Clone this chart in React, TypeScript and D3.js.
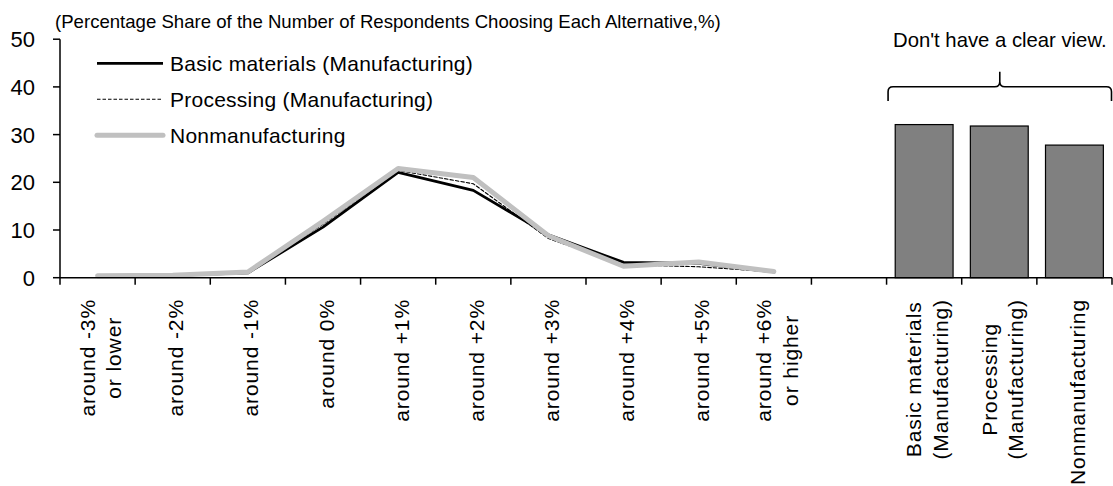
import React, { useEffect, useRef } from "react";
import * as d3 from "d3";

// Expected price-change alternatives (x-axis, line part)
const rateCategories: string[][] = [
  ["around -3%", "or lower"],
  ["around -2%"],
  ["around -1%"],
  ["around 0%"],
  ["around +1%"],
  ["around +2%"],
  ["around +3%"],
  ["around +4%"],
  ["around +5%"],
  ["around +6%", "or higher"],
];

// "Don't have a clear view." answers, one bar per industry
const viewCategories: string[][] = [
  ["Basic materials", "(Manufacturing)"],
  ["Processing", "(Manufacturing)"],
  ["Nonmanufacturing"],
];

const seriesNames = [
  "Basic materials (Manufacturing)",
  "Processing (Manufacturing)",
  "Nonmanufacturing",
];

const basicMaterials = [0.3, 0.5, 1.0, 10.6, 22.1, 18.3, 9.0, 3.2, 3.0, 1.2];
const processing = [0.3, 0.5, 1.0, 11.2, 22.5, 19.7, 8.2, 2.7, 2.3, 1.2];
const nonmanufacturing = [0.4, 0.5, 1.2, 11.8, 22.9, 21.0, 8.8, 2.4, 3.3, 1.3];
const noClearView = [32.1, 31.8, 27.8];

const yTicks = [0, 10, 20, 30, 40, 50];

const unitNote =
  "(Percentage Share of the Number of Respondents Choosing Each Alternative,%)";
const viewNote = "Don't have a clear view.";

const W = 1113;
const H = 486;
const FONT = "'Liberation Sans', Arial, sans-serif";

export default function App() {
  const ref = useRef<SVGSVGElement | null>(null);

  useEffect(() => {
    const svg = d3.select(ref.current!);
    svg.selectAll("*").remove();

    const left = 60;
    const right = 1112;
    const top = 39.2;
    const bottom = 277.7;

    const rateKeys = rateCategories.map((_, i) => `r${i}`);
    const viewKeys = viewCategories.map((_, i) => `v${i}`);
    const keys = [...rateKeys, "gap", ...viewKeys];

    const x = d3.scaleBand<string>().domain(keys).range([left, right]).padding(0);
    const bw = x.bandwidth();
    const cx = (k: string) => (x(k) as number) + bw / 2;
    const y = d3.scaleLinear().domain([0, 50]).range([bottom, top]);

    const g = svg.append("g").attr("font-family", FONT);

    // unit note
    g.append("text")
      .attr("x", 55)
      .attr("y", 28)
      .attr("font-size", 18.6)
      .attr("fill", "#000")
      .text(unitNote);

    // bars
    g.selectAll("rect.bar")
      .data(noClearView)
      .join("rect")
      .attr("class", "bar")
      .attr("x", (_, i) => (x(viewKeys[i]) as number) + bw * 0.115)
      .attr("width", bw * 0.77)
      .attr("y", (d) => y(d))
      .attr("height", (d) => y(0) - y(d))
      .attr("fill", "#808080")
      .attr("stroke", "#000")
      .attr("stroke-width", 1.2);

    // lines
    const line = d3
      .line<number>()
      .x((_, i) => cx(rateKeys[i]))
      .y((d) => y(d));

    const styles = [
      { data: basicMaterials, color: "#000", width: 2.8, dash: null as string | null },
      { data: processing, color: "#000", width: 1.1, dash: "3.5,2" },
      { data: nonmanufacturing, color: "#c0c0c0", width: 5, dash: null },
    ];

    styles.forEach((s) => {
      g.append("path")
        .attr("d", line(s.data) as string)
        .attr("fill", "none")
        .attr("stroke", s.color)
        .attr("stroke-width", s.width)
        .attr("stroke-linejoin", "round")
        .attr("stroke-linecap", "round")
        .attr("stroke-dasharray", s.dash);
    });

    // axes
    const yAxis = g.append("g");
    yAxis
      .append("line")
      .attr("x1", left)
      .attr("x2", left)
      .attr("y1", y(50))
      .attr("y2", y(0))
      .attr("stroke", "#000")
      .attr("stroke-width", 1.5);
    yTicks.forEach((t) => {
      yAxis
        .append("line")
        .attr("x1", left - 7)
        .attr("x2", left)
        .attr("y1", y(t))
        .attr("y2", y(t))
        .attr("stroke", "#000")
        .attr("stroke-width", 1.5);
      yAxis
        .append("text")
        .attr("x", 35)
        .attr("y", y(t))
        .attr("dy", "0.36em")
        .attr("text-anchor", "end")
        .attr("font-size", 22)
        .text(String(t));
    });

    const xAxis = g.append("g");
    xAxis
      .append("line")
      .attr("x1", left)
      .attr("x2", right)
      .attr("y1", y(0))
      .attr("y2", y(0))
      .attr("stroke", "#000")
      .attr("stroke-width", 1.5);
    const edges = [...keys.map((k) => x(k) as number), right];
    edges.forEach((ex) => {
      xAxis
        .append("line")
        .attr("x1", ex)
        .attr("x2", ex)
        .attr("y1", y(0))
        .attr("y2", y(0) + 7)
        .attr("stroke", "#000")
        .attr("stroke-width", 1.5);
    });

    // rotated category labels
    const labelTop = 299;
    const lineStep = 26.5;
    const allLabels = [
      ...rateCategories.map((l, i) => ({ key: rateKeys[i], lines: l })),
      ...viewCategories.map((l, i) => ({ key: viewKeys[i], lines: l })),
    ];
    allLabels.forEach((lab) => {
      const grp = xAxis
        .append("g")
        .attr("transform", `translate(${cx(lab.key)},${labelTop}) rotate(-90)`);
      const n = lab.lines.length;
      const texts = lab.lines.map((t, i) =>
        grp
          .append("text")
          .attr("y", 10.5 + (i - (n - 1) / 2) * lineStep)
          .attr("font-size", 21)
          .attr("letter-spacing", 0.9)
          .attr("text-anchor", "middle")
          .text(t)
      );
      const lens = texts.map((t) => (t.node() as SVGTextElement).getComputedTextLength());
      const maxLen = Math.max(...lens);
      texts.forEach((t) => t.attr("x", -maxLen / 2));
    });

    // legend
    const legend = g.append("g");
    styles.forEach((s, i) => {
      const ly = 63.3 + i * 36;
      legend
        .append("line")
        .attr("x1", 97)
        .attr("x2", 163)
        .attr("y1", ly)
        .attr("y2", ly)
        .attr("stroke", s.color)
        .attr("stroke-width", s.width)
        .attr("stroke-linecap", s.width > 3 ? "round" : "butt")
        .attr("stroke-dasharray", s.dash);
      legend
        .append("text")
        .attr("x", 170)
        .attr("y", ly + 7.6)
        .attr("font-size", 21)
        .attr("letter-spacing", 0.25)
        .text(seriesNames[i]);
    });

    // brace over the "no clear view" bars
    const bx0 = (x(viewKeys[0]) as number) + 1.5;
    const bx1 = right - 0.5;
    const mid = (bx0 + bx1) / 2;
    const yFoot = 101;
    const yBar = 86.7;
    const yTip = 71.7;
    const r = 5;
    const p = d3.path();
    p.moveTo(bx0, yFoot);
    p.lineTo(bx0, yBar + r);
    p.quadraticCurveTo(bx0, yBar, bx0 + r, yBar);
    p.lineTo(mid - r, yBar);
    p.quadraticCurveTo(mid, yBar, mid, yBar - r);
    p.lineTo(mid, yTip);
    p.moveTo(mid, yBar - r);
    p.quadraticCurveTo(mid, yBar, mid + r, yBar);
    p.lineTo(bx1 - r, yBar);
    p.quadraticCurveTo(bx1, yBar, bx1, yBar + r);
    p.lineTo(bx1, yFoot);
    g.append("path")
      .attr("d", p.toString())
      .attr("fill", "none")
      .attr("stroke", "#000")
      .attr("stroke-width", 1.6);

    g.append("text")
      .attr("x", mid)
      .attr("y", 46.7)
      .attr("text-anchor", "middle")
      .attr("font-size", 20.3)
      .text(viewNote);
  }, []);

  return (
    <svg
      ref={ref}
      width={W}
      height={H}
      style={{ position: "absolute", left: 0, top: 0, background: "#fff", display: "block" }}
    />
  );
}
